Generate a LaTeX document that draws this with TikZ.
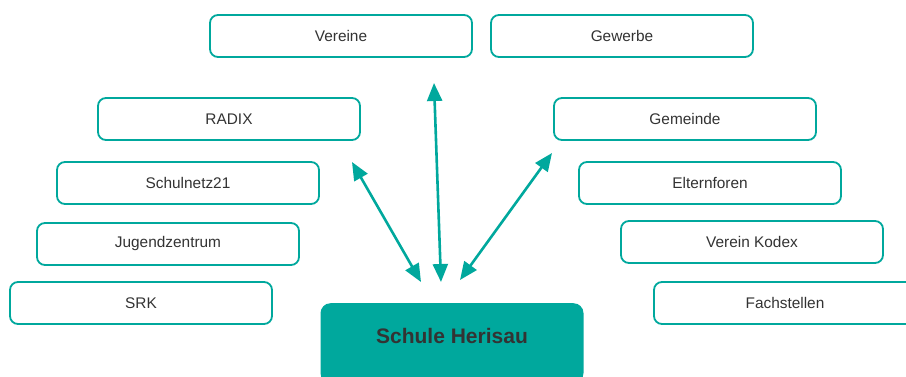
\documentclass[tikz,border=0pt]{standalone}
\usepackage{fontspec}
\setmainfont{Liberation Sans}
\usepackage{tikz}
\usetikzlibrary{positioning, arrows.meta}
\definecolor{herisau}{RGB}{0,168,157}
\definecolor{textgray}{RGB}{51,51,51}
\tikzset{
    x=1pt,
    y=-1pt,
    partner/.style={draw=herisau, line width=1.8pt, rounded corners=8pt, fill=white,
        minimum width=262pt, minimum height=42pt, text=textgray, font=\fontsize{15.4}{18}\selectfont},
    school/.style={fill=herisau, rounded corners=10pt, minimum width=263pt, inner sep=0pt,
        text height=40pt, text depth=40pt, text=textgray, font=\bfseries\fontsize{21}{24}\selectfont},
    link/.style={draw=herisau, line width=2.6pt, {Triangle[length=18pt,width=15pt]}-{Triangle[length=18pt,width=15pt]}},
}

\begin{document}
\begin{tikzpicture}
    \useasboundingbox (0,0) rectangle (906,376);
    \clip (0,0) rectangle (906,376);

        \node[school, anchor=north] (schule) at (452,303) {Schule Herisau};

        \node[partner] (vereine) at (341,36) {Vereine};
        \node[partner] (gewerbe) at (622,36) {Gewerbe};

        \node[partner] (radix) at (229,119) {RADIX};
        \node[partner] (schulnetz) at (188,183) {Schulnetz21};
        \node[partner] (jugend) at (168,244) {Jugendzentrum};
        \node[partner] (srk) at (141,303) {SRK};

        \node[partner] (gemeinde) at (685,119) {Gemeinde};
        \node[partner] (eltern) at (710,183) {Elternforen};
        \node[partner] (kodex) at (752,242) {Verein Kodex};
        \node[partner] (fach) at (785,303) {Fachstellen};

        % free ends of the arrows
        \coordinate (l1) at (352,162);
        \coordinate (l2) at (421,282);
        \coordinate (m1) at (434,83);
        \coordinate (m2) at (441,282);
        \coordinate (r1) at (552,153);
        \coordinate (r2) at (460,280);

    \draw[link] (l1) -- (l2);
    \draw[link] (m1) -- (m2);
    \draw[link] (r1) -- (r2);
\end{tikzpicture}
\end{document}
